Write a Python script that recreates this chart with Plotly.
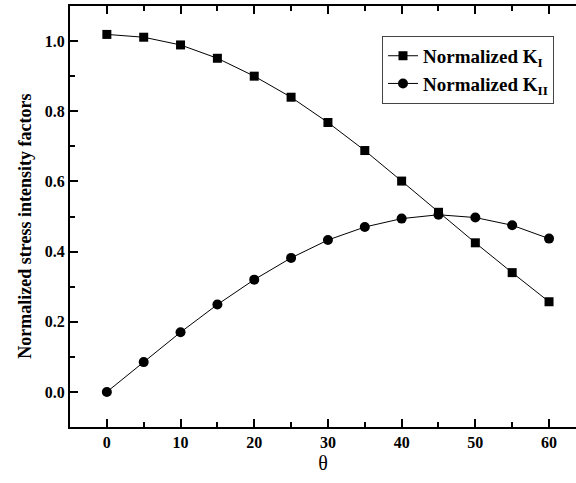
import plotly.graph_objects as go

theta = [0, 5, 10, 15, 20, 25, 30, 35, 40, 45, 50, 55, 60]
k1 = [1.019, 1.011, 0.989, 0.951, 0.900, 0.840, 0.768, 0.688, 0.601, 0.512, 0.425, 0.340, 0.257]
k2 = [0.000, 0.085, 0.170, 0.249, 0.320, 0.382, 0.433, 0.470, 0.494, 0.505, 0.497, 0.475, 0.437]

serif = "Liberation Serif"

fig = go.Figure()
fig.add_trace(go.Scatter(
    x=theta, y=k1, mode="lines+markers", name="Normalized K<sub>I</sub>",
    line=dict(color="black", width=1),
    marker=dict(symbol="square", size=9, color="black"),
))
fig.add_trace(go.Scatter(
    x=theta, y=k2, mode="lines+markers", name="Normalized K<sub>II</sub>",
    line=dict(color="black", width=1),
    marker=dict(symbol="circle", size=10, color="black"),
))

fig.update_layout(
    width=576, height=483,
    margin=dict(l=70, r=0, t=6, b=56),
    paper_bgcolor="white", plot_bgcolor="white",
    font=dict(family=serif, color="black"),
    showlegend=True,
    legend=dict(
        x=0.9565, y=0.929, xanchor="right", yanchor="top",
        bordercolor="#444", borderwidth=1, bgcolor="white",
        font=dict(family=serif, size=19, color="black", weight="bold"),
        tracegroupgap=2,
    ),
    xaxis=dict(
        range=[-5, 63.66], tick0=0, dtick=10,
        showline=True, linecolor="black", linewidth=2, mirror="allticks",
        ticks="inside", ticklen=8, tickwidth=2, tickcolor="black",
        minor=dict(tick0=0, dtick=5, ticks="inside", ticklen=5, tickwidth=2,
                   tickcolor="black", showgrid=False),
        showgrid=False, zeroline=False,
        tickfont=dict(family=serif, size=16, weight="bold"),
        title=dict(text="θ", font=dict(family=serif, size=20), standoff=6),
    ),
    yaxis=dict(
        range=[-0.1, 1.1], tick0=0, dtick=0.2, tickformat=".1f",
        showline=True, linecolor="black", linewidth=2,
        ticks="inside", ticklen=8, tickwidth=2, tickcolor="black",
        minor=dict(tick0=0, dtick=0.1, ticks="inside", ticklen=5, tickwidth=2,
                   tickcolor="black", showgrid=False),
        showgrid=False, zeroline=False,
        tickfont=dict(family=serif, size=16, weight="bold"),
    ),
    annotations=[dict(
        text="Normalized stress intensity factors", textangle=-90,
        xref="paper", yref="paper", x=-0.088, y=0.477,
        xanchor="center", yanchor="middle", showarrow=False,
        font=dict(family=serif, size=18, weight="bold", color="black"),
    )],
)

fig.write_html("out.html", config={"displayModeBar": False},
               post_script="document.body.style.margin='0';document.body.style.padding='0';")
